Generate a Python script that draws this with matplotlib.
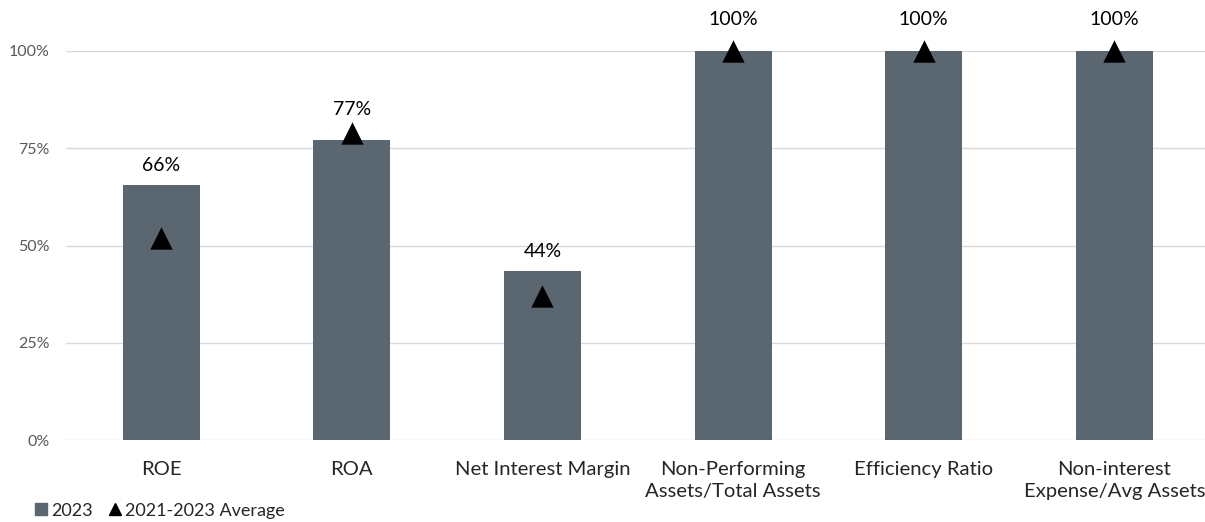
import matplotlib
matplotlib.use("Agg")
import matplotlib.pyplot as plt
from matplotlib.lines import Line2D
from matplotlib.ticker import FuncFormatter

plt.rcParams['font.family'] = ['Lato', 'DejaVu Sans']

categories = ["ROE", "ROA", "Net Interest Margin", "Non-Performing\nAssets/Total Assets",
              "Efficiency Ratio", "Non-interest\nExpense/Avg Assets"]
values_2023 = [65.5, 77, 43.5, 100, 100, 100]
labels_2023 = ["66%", "77%", "44%", "100%", "100%", "100%"]
avg_2021_2023 = [52, 79, 37, 100, 100, 100]
yticks = [0, 25, 50, 75, 100]

bar_color = "#5a6670"
grid_color = "#d9d9d9"
text_grey = "#595959"

fig = plt.figure(figsize=(12.05, 5.22), dpi=100)
ax = fig.add_axes([66 / 1205, 1 - 440 / 522, 1 - 66 / 1205, 389 / 522])

x = list(range(len(categories)))
ax.bar(x, values_2023, width=0.404, color=bar_color, zorder=2)
ax.scatter(x, avg_2021_2023, marker="^", s=260, color="black", zorder=3,
           linewidths=0, clip_on=False)

# value labels sit above the bar, higher when the average marker reaches the bar top
for xi, v, a, lab in zip(x, values_2023, avg_2021_2023, labels_2023):
    off = 22.5 if a >= v else 14
    ax.annotate(lab, (xi, v), xytext=(0, off), textcoords="offset points",
                ha="center", va="center", fontsize=14, color="black",
                annotation_clip=False)

ax.set_xlim(-0.5, 5.476)
ax.set_ylim(0, 100)
ax.set_yticks(yticks)
ax.yaxis.set_major_formatter(FuncFormatter(lambda v, p: f"{v:.0f}%"))
ax.grid(axis="y", color=grid_color, linewidth=1, zorder=0)
ax.set_axisbelow(True)
for s in ax.spines.values():
    s.set_visible(False)
ax.tick_params(axis="y", length=0, labelsize=11.5, labelcolor=text_grey, pad=12)
ax.tick_params(axis="x", length=0, labelsize=14.6, labelcolor="#262626", pad=15)
ax.set_xticks(x)
ax.set_xticklabels(categories, linespacing=1.35, va="top")

handles = [
    Line2D([], [], marker="s", linestyle="none", color=bar_color, markersize=9),
    Line2D([], [], marker="^", linestyle="none", color="black", markersize=9),
]
fig.legend(handles, ["2023", "2021-2023 Average"], loc="lower left",
           bbox_to_anchor=(0.014, -0.025), ncol=2, frameon=False, fontsize=13,
           handletextpad=0.1, columnspacing=0.8, handlelength=0.9,
           labelcolor="#262626")

fig.savefig("out.png", dpi=100)
